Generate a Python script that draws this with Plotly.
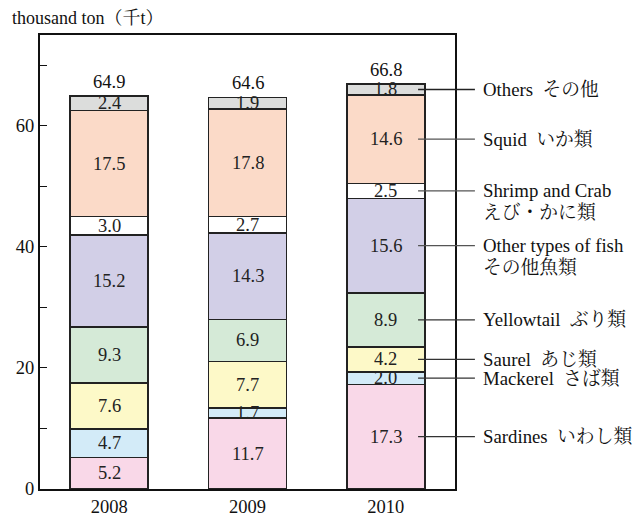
import plotly.graph_objects as go

years = ["2008", "2009", "2010"]
species = ["Sardines", "Mackerel", "Saurel", "Yellowtail", "Other types of fish",
           "Shrimp and Crab", "Squid", "Others"]
label_lines = [["Sardines  いわし類"], ["Mackerel  さば類"], ["Saurel  あじ類"],
               ["Yellowtail  ぶり類"], ["Other types of fish", "その他魚類"],
               ["Shrimp and Crab", "えび・かに類"], ["Squid  いか類"], ["Others  その他"]]
values = {
    "Sardines":            [5.2, 11.7, 17.3],
    "Mackerel":            [4.7, 1.7, 2.0],
    "Saurel":              [7.6, 7.7, 4.2],
    "Yellowtail":          [9.3, 6.9, 8.9],
    "Other types of fish": [15.2, 14.3, 15.6],
    "Shrimp and Crab":     [3.0, 2.7, 2.5],
    "Squid":               [17.5, 17.8, 14.6],
    "Others":              [2.4, 1.9, 1.8],
}
totals = [64.9, 64.6, 66.8]
colors = ["#f9d8e8", "#d3ebf8", "#fdf9c8", "#d5ead7", "#d2cfe7", "#ffffff", "#fbdac8", "#dcdddc"]
leader_colors = ["#333", "#333", "#333", "#333", "#555", "#555", "#555", "#222"]

FONT = "Liberation Serif, 'Noto Serif CJK JP', 'Noto Sans CJK JP', serif"
YMAX = 75

fig = go.Figure()
for sp, col in zip(species, colors):
    fig.add_trace(go.Bar(
        x=years, y=values[sp], name=sp, width=0.563,
        marker=dict(color=col, line=dict(color="#222", width=1.5)),
        hoverinfo="skip",
    ))

annotations = []
shapes = []
cum = [0.0, 0.0, 0.0]
mids_2010 = []
for sp in species:
    for i, y in enumerate(years):
        v = values[sp][i]
        mid = cum[i] + v / 2
        annotations.append(dict(x=i, y=mid, xref="x", yref="y", text=f"{v:.1f}",
                                showarrow=False, font=dict(size=18.5, color="#222", family=FONT)))
        cum[i] += v
    mids_2010.append(cum[2] - values[sp][2] / 2)

for i, y in enumerate(years):
    annotations.append(dict(x=i, y=cum[i], xref="x", yref="y", text=f"{totals[i]:.1f}",
                            showarrow=False, yanchor="bottom", yshift=2,
                            font=dict(size=18.5, color="#111", family=FONT)))

for k, sp in enumerate(species):
    m = mids_2010[k]
    shapes.append(dict(type="line", xref="paper", yref="paper",
                       x0=0.911, x1=1.048, y0=m / YMAX, y1=m / YMAX,
                       line=dict(color=leader_colors[k], width=1.3)))
    for j, ln in enumerate(label_lines[k]):
        annotations.append(dict(x=1.063, y=m / YMAX, xref="paper", yref="paper", text=ln,
                                xanchor="left", yanchor="middle", showarrow=False,
                                yshift=-22 * j,
                                font=dict(size=18.8, color="#111", family=FONT)))

annotations.append(dict(x=-0.072, y=1.037, xref="paper", yref="paper",
                        text="thousand ton（千t）", xanchor="left", yanchor="middle",
                        showarrow=False, font=dict(size=18, color="#111", family=FONT)))

fig.update_layout(
    barmode="stack",
    width=641, height=519,
    margin=dict(l=40, r=186, t=35, b=30),
    paper_bgcolor="white", plot_bgcolor="white",
    showlegend=False,
    font=dict(family=FONT, size=18, color="#111"),
    annotations=annotations,
    shapes=shapes,
    xaxis=dict(type="category", range=[-0.5, 2.5], showline=True, linecolor="#111", linewidth=2,
               mirror=True, ticks="", tickfont=dict(size=18.5, family=FONT, color="#111"),
               showgrid=False, fixedrange=True, automargin=False),
    yaxis=dict(range=[0, YMAX], showline=True, linecolor="#111", linewidth=2,
               mirror=True, tickvals=[0, 20, 40, 60], ticks="inside", ticklen=7,
               tickcolor="#111", tickwidth=1,
               minor=dict(tickvals=[10, 30, 50, 70], ticks="inside", ticklen=7,
                          tickcolor="#111", tickwidth=1),
               tickfont=dict(size=18.5, family=FONT, color="#111"),
               showgrid=False, zeroline=False, fixedrange=True, automargin=False),
)

fig.write_html("out.html",
               post_script="document.body.style.margin='0';document.body.style.overflow='hidden';",
               config={"displayModeBar": False})
